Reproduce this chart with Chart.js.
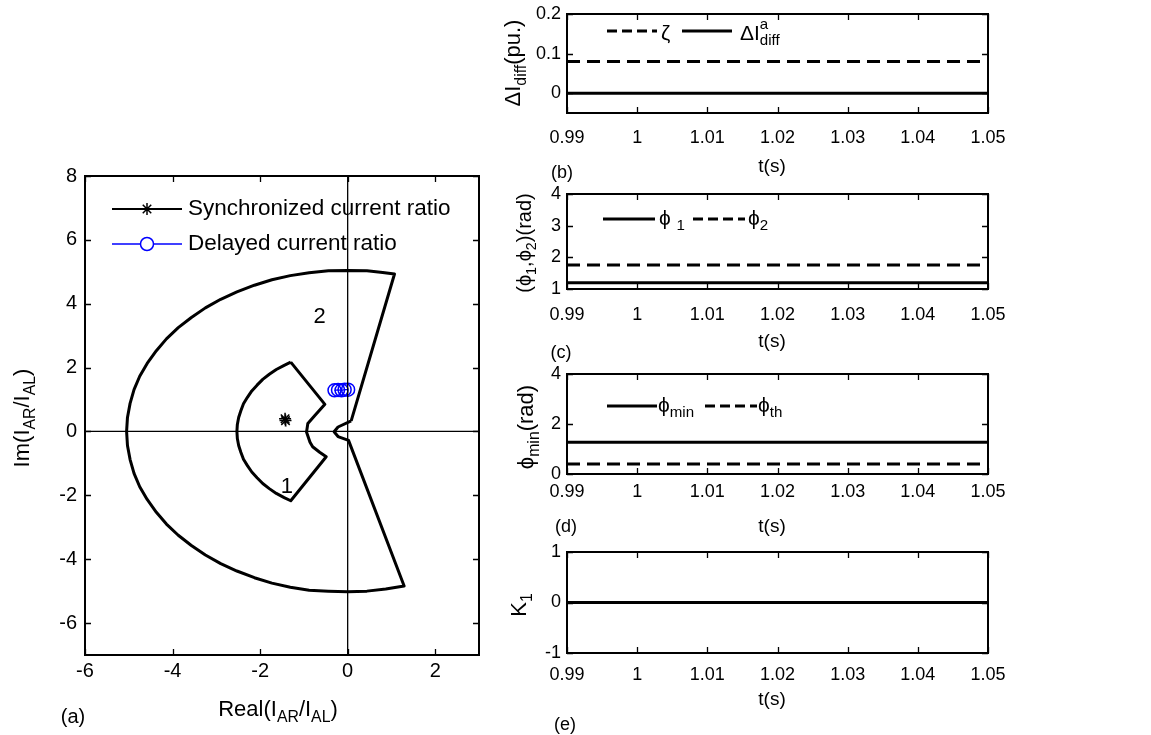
<!DOCTYPE html>
<html>
<head>
<meta charset="utf-8">
<script src="https://cdn.jsdelivr.net/npm/chart.js@4.4.1/dist/chart.umd.min.js"></script>
<style>
  html, body { margin: 0; padding: 0; background: #fff; }
  #fig { position: relative; width: 1151px; height: 735px; }
  #fig canvas { position: absolute; left: 0; top: 0; }
</style>
</head>
<body>
<div id="fig">
  <canvas id="chartA" width="1151" height="735"></canvas>
  <canvas id="chartB" width="1151" height="735"></canvas>
  <canvas id="chartC" width="1151" height="735"></canvas>
  <canvas id="chartD" width="1151" height="735"></canvas>
  <canvas id="chartE" width="1151" height="735"></canvas>
</div>
<script>
// ---- data (a): current ratio plane ----
const region2Re = [0.08, 1.07, 0.80, 0.44, 0.00, -0.44, -0.88, -1.31, -1.73, -2.13, -2.53, -2.90, -3.25, -3.57,
  -3.87, -4.14, -4.37, -4.58, -4.75, -4.88, -4.97, -5.03, -5.05, -5.03, -4.97, -4.88, -4.75, -4.58, -4.37, -4.14,
  -3.87, -3.57, -3.25, -2.90, -2.53, -2.13, -1.73, -1.31, -0.88, -0.44, 0.00, 0.44, 0.87, 1.29,
  0.02, -0.22, -0.31, -0.22, 0.08];
const region2Im = [0.33, 4.93, 4.98, 5.03, 5.04, 5.03, 4.97, 4.88, 4.75, 4.58, 4.37, 4.14, 3.87, 3.57,
  3.25, 2.90, 2.53, 2.13, 1.73, 1.31, 0.88, 0.44, 0.00, -0.44, -0.88, -1.31, -1.73, -2.13, -2.53, -2.90,
  -3.25, -3.57, -3.87, -4.14, -4.37, -4.58, -4.75, -4.88, -4.97, -5.00, -5.02, -5.00, -4.93, -4.84,
  -0.28, -0.16, -0.01, 0.14, 0.33];
const region1Re = [-1.30, -1.45, -1.63, -1.79, -1.94, -2.07, -2.19, -2.29, -2.38, -2.44, -2.49, -2.52, -2.53,
  -2.52, -2.49, -2.44, -2.38, -2.29, -2.19, -2.07, -1.94, -1.79, -1.63, -1.45, -1.30,
  -0.49, -0.64, -0.80, -0.86, -0.94, -0.91, -0.75, -0.52, -1.30];
const region1Im = [2.17, 2.07, 1.94, 1.79, 1.63, 1.45, 1.27, 1.07, 0.87, 0.65, 0.44, 0.22, 0.00,
  -0.22, -0.44, -0.65, -0.87, -1.07, -1.27, -1.45, -1.63, -1.79, -1.94, -2.07, -2.17,
  -0.79, -0.65, -0.48, -0.34, -0.02, 0.25, 0.50, 0.85, 2.17];
const syncRe = [-1.43, -1.42];
const syncIm = [0.40, 0.34];
const delayedRe = [-0.30, -0.22, -0.14, -0.07, 0.01];
const delayedIm = [1.29, 1.30, 1.29, 1.31, 1.31];
const zeroLineRe = [-6, 3];
const zeroLineIm = [-7, 8];
const aXTicks = [-6, -4, -2, 0, 2];
const aYTicks = [-6, -4, -2, 0, 2, 4, 6, 8];

// ---- data (b)-(e): time traces ----
const time = [0.99, 1.05];
const tTicks = [0.99, 1, 1.01, 1.02, 1.03, 1.04, 1.05];
const zeta = [0.08, 0.08];
const dIdiffA = [0, 0];
const phi1 = [1.2, 1.2];
const phi2 = [1.76, 1.76];
const phiMin = [1.27, 1.27];
const phiTh = [0.4, 0.4];
const k1 = [0, 0];
const bTicks = [0, 0.1, 0.2];
const cTicks = [1, 2, 3, 4];
const dTicks = [0, 2, 4];
const eTicks = [-1, 0, 1];

const W = 1151, H = 735;
const FONT = '"Liberation Sans", Arial, sans-serif';
const DASH = [13, 7];

const zip = (xs, ys) => xs.map((x, i) => ({ x: x, y: ys[i] }));

// text with sub / superscripts
function partWidth(ctx, p, size) {
  if (typeof p === 'string') { ctx.font = size + 'px ' + FONT; return ctx.measureText(p).width; }
  ctx.font = (size * 0.72) + 'px ' + FONT;
  return Math.max(p.sub ? ctx.measureText(p.sub).width : 0, p.sup ? ctx.measureText(p.sup).width : 0);
}
function drawRich(ctx, parts, x, y, size, align, rotate) {
  ctx.save();
  ctx.translate(x, y);
  if (rotate) ctx.rotate(-Math.PI / 2);
  ctx.fillStyle = '#000';
  ctx.textBaseline = 'middle';
  ctx.textAlign = 'left';
  const widths = parts.map(p => partWidth(ctx, p, size));
  const total = widths.reduce((a, b) => a + b, 0);
  let cx = align === 'left' ? 0 : -total / 2;
  parts.forEach((p, i) => {
    if (typeof p === 'string') {
      ctx.font = size + 'px ' + FONT;
      ctx.fillText(p, cx, 0);
    } else {
      ctx.font = (size * 0.72) + 'px ' + FONT;
      if (p.sub) ctx.fillText(p.sub, cx, size * 0.34);
      if (p.sup) ctx.fillText(p.sup, cx, -size * 0.42);
    }
    cx += widths[i];
  });
  ctx.restore();
}

function drawFrame(chart, xTicks, yTicks, tl, lw) {
  const ctx = chart.ctx, a = chart.chartArea, sx = chart.scales.x, sy = chart.scales.y;
  ctx.save();
  ctx.strokeStyle = '#000';
  ctx.lineWidth = 1.3;
  ctx.beginPath();
  xTicks.forEach(v => {
    const px = Math.round(sx.getPixelForValue(v)) + 0.5;
    ctx.moveTo(px, a.bottom); ctx.lineTo(px, a.bottom - tl);
    ctx.moveTo(px, a.top); ctx.lineTo(px, a.top + tl);
  });
  yTicks.forEach(v => {
    const py = Math.round(sy.getPixelForValue(v)) + 0.5;
    ctx.moveTo(a.left, py); ctx.lineTo(a.left + tl, py);
    ctx.moveTo(a.right, py); ctx.lineTo(a.right - tl, py);
  });
  ctx.stroke();
  ctx.lineWidth = lw;
  ctx.strokeRect(a.left, a.top, a.right - a.left, a.bottom - a.top);
  ctx.restore();
}

function drawTickLabels(chart, xTicks, yTicks, xLabY, yLabX, size) {
  const ctx = chart.ctx, sx = chart.scales.x, sy = chart.scales.y;
  ctx.save();
  ctx.fillStyle = '#000';
  ctx.font = size + 'px ' + FONT;
  ctx.textBaseline = 'middle';
  ctx.textAlign = 'center';
  xTicks.forEach(v => ctx.fillText(String(v), sx.getPixelForValue(v), xLabY));
  ctx.textAlign = 'right';
  yTicks.forEach(v => ctx.fillText(String(v), yLabX, sy.getPixelForValue(v)));
  ctx.restore();
}

function legendLine(ctx, x0, x1, y, dash, color, lw) {
  ctx.save();
  ctx.strokeStyle = color || '#000';
  ctx.lineWidth = lw || 3;
  ctx.setLineDash(dash || []);
  ctx.beginPath(); ctx.moveTo(x0, y); ctx.lineTo(x1, y); ctx.stroke();
  ctx.restore();
}

function makeChart(id, area, xr, yr, datasets, decorate) {
  return new Chart(document.getElementById(id), {
    type: 'scatter',
    data: { datasets: datasets },
    options: {
      responsive: false,
      animation: false,
      devicePixelRatio: 1,
      events: [],
      layout: { padding: { left: area.l, top: area.t, right: W - area.r, bottom: H - area.b } },
      plugins: { legend: { display: false }, tooltip: { enabled: false } },
      scales: {
        x: { type: 'linear', display: false, min: xr[0], max: xr[1] },
        y: { type: 'linear', display: false, min: yr[0], max: yr[1] }
      }
    },
    plugins: [{ id: 'decor' + id, afterDraw: chart => decorate(chart, chart.ctx) }]
  });
}

function lineSet(pts, dash, lw) {
  return { data: pts, showLine: true, borderColor: '#000', borderWidth: lw || 3, borderDash: dash || [],
    pointRadius: 0, fill: false, tension: 0, borderJoinStyle: 'round' };
}

// ---- (a) ----
makeChart('chartA', { l: 85, r: 479, t: 176, b: 655 }, [-6, 3], [-7, 8], [
  lineSet(zip(zeroLineRe, [0, 0]), [], 1.3),
  lineSet(zip([0, 0], zeroLineIm), [], 1.3),
  lineSet(zip(region2Re, region2Im), [], 3),
  lineSet(zip(region1Re, region1Im), [], 3),
  { data: zip(syncRe, syncIm), showLine: true, borderColor: '#000', borderWidth: 1.5, pointStyle: 'star',
    pointRadius: 6, pointBorderWidth: 1.5, backgroundColor: 'transparent' },
  { data: zip(delayedRe, delayedIm), showLine: true, borderColor: '#0000ff', borderWidth: 1.3, pointStyle: 'circle',
    pointRadius: 6.5, pointBorderWidth: 1.5, backgroundColor: 'transparent' }
], (chart, ctx) => {
  const sx = chart.scales.x, sy = chart.scales.y;
  drawFrame(chart, aXTicks, aYTicks, 6, 2);
  drawTickLabels(chart, aXTicks, aYTicks, 671, 77, 20);
  // legend
  legendLine(ctx, 112, 182, 209, [], '#000', 1.8);
  ctx.save();
  ctx.strokeStyle = '#000'; ctx.lineWidth = 1.5;
  ctx.beginPath();
  for (let k = 0; k < 4; k++) {
    const ang = k * Math.PI / 4;
    ctx.moveTo(147 - 6 * Math.cos(ang), 209 - 6 * Math.sin(ang));
    ctx.lineTo(147 + 6 * Math.cos(ang), 209 + 6 * Math.sin(ang));
  }
  ctx.stroke();
  ctx.restore();
  legendLine(ctx, 112, 182, 244, [], '#0000ff', 1.3);
  ctx.save();
  ctx.strokeStyle = '#0000ff'; ctx.lineWidth = 1.5;
  ctx.beginPath(); ctx.arc(147, 244, 6.5, 0, Math.PI * 2); ctx.fillStyle = '#fff'; ctx.fill(); ctx.stroke();
  ctx.restore();
  drawRich(ctx, ['Synchronized current ratio'], 188, 209, 22.5, 'left');
  drawRich(ctx, ['Delayed current ratio'], 188, 244, 22.5, 'left');
  // region labels
  drawRich(ctx, ['2'], sx.getPixelForValue(-0.64), sy.getPixelForValue(3.6), 22, 'center');
  drawRich(ctx, ['1'], sx.getPixelForValue(-1.39), sy.getPixelForValue(-1.75), 22, 'center');
  // axis titles
  drawRich(ctx, ['Real(I', { sub: 'AR' }, '/I', { sub: 'AL' }, ')'], 278, 710, 22, 'center');
  drawRich(ctx, ['Im(I', { sub: 'AR' }, '/I', { sub: 'AL' }, ')'], 23, 418, 22, 'center', true);
  drawRich(ctx, ['(a)'], 73, 717, 20, 'center');
});

// ---- (b) ----
makeChart('chartB', { l: 567, r: 988, t: 14, b: 113 }, [0.99, 1.05], [-0.05, 0.2], [
  lineSet(zip(time, zeta), DASH, 3),
  lineSet(zip(time, dIdiffA), [], 3)
], (chart, ctx) => {
  drawFrame(chart, tTicks, bTicks, 6, 2);
  drawTickLabels(chart, tTicks, bTicks, 138, 561, 18);
  legendLine(ctx, 607, 657, 31, [10, 5]);
  drawRich(ctx, ['ζ'], 661, 34, 21, 'left');
  legendLine(ctx, 682, 732, 31, []);
  drawRich(ctx, ['ΔI', { sup: 'a', sub: 'diff' }], 740, 34, 21, 'left');
  drawRich(ctx, ['t(s)'], 772, 167, 19, 'center');
  drawRich(ctx, ['ΔI', { sub: 'diff' }, '(pu.)'], 514, 63, 22, 'center', true);
  drawRich(ctx, ['(b)'], 562, 173, 18, 'center');
});

// ---- (c) ----
makeChart('chartC', { l: 567, r: 988, t: 194, b: 289 }, [0.99, 1.05], [1, 4], [
  lineSet(zip(time, phi1), [], 3),
  lineSet(zip(time, phi2), DASH, 3)
], (chart, ctx) => {
  drawFrame(chart, tTicks, cTicks, 6, 2);
  drawTickLabels(chart, tTicks, cTicks, 315, 561, 18);
  legendLine(ctx, 603, 655, 219, []);
  drawRich(ctx, ['ϕ', ' ', { sub: '1' }], 659, 219, 21, 'left');
  legendLine(ctx, 693, 745, 219, [10, 5]);
  drawRich(ctx, ['ϕ', { sub: '2' }], 748, 219, 21, 'left');
  drawRich(ctx, ['t(s)'], 772, 342, 19, 'center');
  drawRich(ctx, ['(ϕ', { sub: '1' }, ',ϕ', { sub: '2' }, ')(rad)'], 525, 243, 20, 'center', true);
  drawRich(ctx, ['(c)'], 561, 353, 18, 'center');
});

// ---- (d) ----
makeChart('chartD', { l: 567, r: 988, t: 374, b: 474 }, [0.99, 1.05], [0, 4], [
  lineSet(zip(time, phiMin), [], 3),
  lineSet(zip(time, phiTh), DASH, 3)
], (chart, ctx) => {
  drawFrame(chart, tTicks, dTicks, 6, 2);
  drawTickLabels(chart, tTicks, dTicks, 492, 561, 18);
  legendLine(ctx, 607, 657, 406, []);
  drawRich(ctx, ['ϕ', { sub: 'min' }], 658, 406, 21, 'left');
  legendLine(ctx, 705, 757, 406, [10, 5]);
  drawRich(ctx, ['ϕ', { sub: 'th' }], 758, 406, 21, 'left');
  drawRich(ctx, ['t(s)'], 772, 527, 19, 'center');
  drawRich(ctx, ['ϕ', { sub: 'min' }, '(rad)'], 527, 427, 22, 'center', true);
  drawRich(ctx, ['(d)'], 566, 527, 18, 'center');
});

// ---- (e) ----
makeChart('chartE', { l: 567, r: 988, t: 552, b: 653 }, [0.99, 1.05], [-1, 1], [
  lineSet(zip(time, k1), [], 3)
], (chart, ctx) => {
  drawFrame(chart, tTicks, eTicks, 6, 2);
  drawTickLabels(chart, tTicks, eTicks, 675, 561, 18);
  drawRich(ctx, ['t(s)'], 772, 700, 19, 'center');
  drawRich(ctx, ['K', { sub: '1' }], 520, 605, 22, 'center', true);
  drawRich(ctx, ['(e)'], 565, 725, 18, 'center');
});
</script>
</body>
</html>
